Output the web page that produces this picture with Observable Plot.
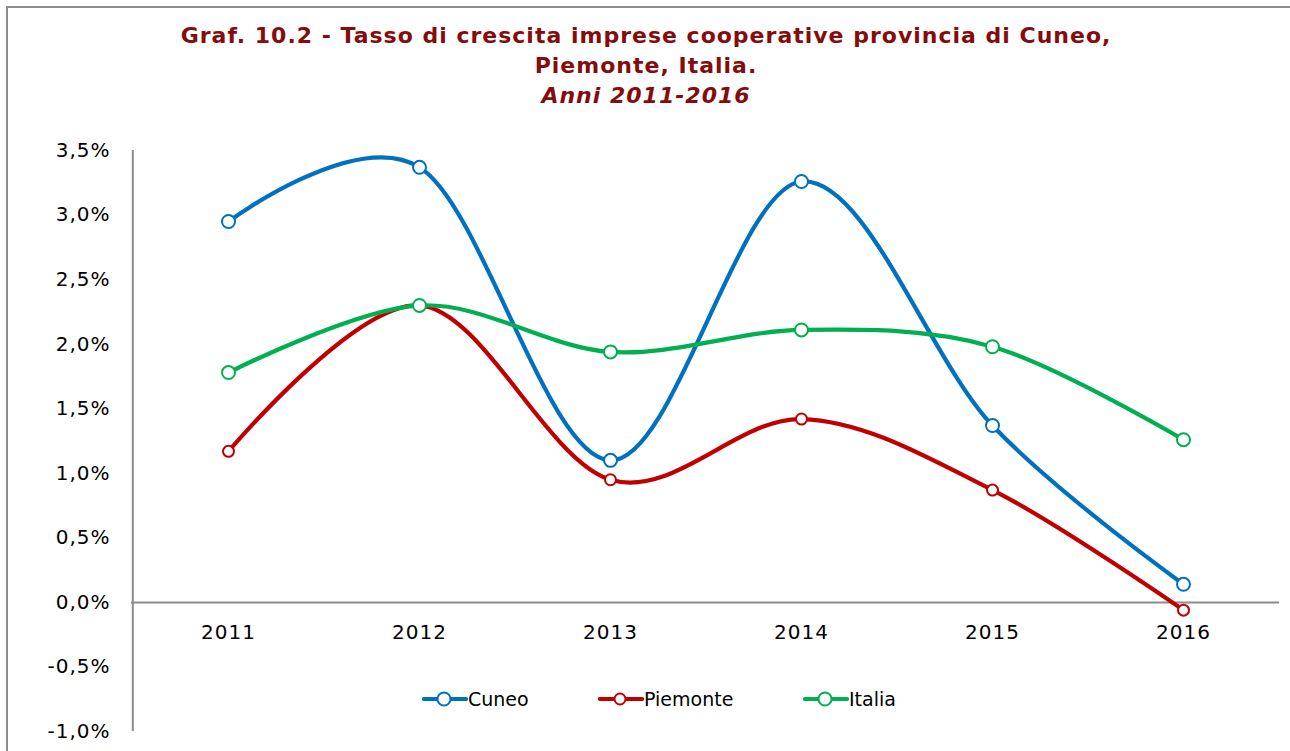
<!DOCTYPE html>
<html>
<head>
<meta charset="utf-8">
<script src="https://cdn.jsdelivr.net/npm/d3@7"></script>
<script src="https://cdn.jsdelivr.net/npm/@observablehq/plot@0.6"></script>
<style>
  html, body { margin: 0; padding: 0; background: #fff; }
  #wrap { position: relative; width: 1290px; height: 751px; overflow: hidden; background: #fff; font-family: "DejaVu Sans", Verdana, sans-serif; }
  #frame { position: absolute; left: 6px; top: 6px; width: 1300px; height: 800px; border-left: 2px solid #8c8c8c; border-top: 2px solid #8c8c8c; }
  #title { position: absolute; left: 0; top: 21px; width: 1292px; text-align: center; color: #850c0c; font-weight: bold; font-size: 22px; line-height: 30px; letter-spacing: 1px; }
  #title .sub { font-style: italic; }
  #chart { position: absolute; left: 0; top: 120px; }
  #legend { position: absolute; top: 686px; left: 0; width: 1290px; height: 26px; font-size: 19px; color: #000; }
  .li { position: absolute; top: 0; height: 26px; display: flex; align-items: center; }
  #chart svg text { letter-spacing: 1px; }
</style>
</head>
<body>
<div id="wrap">
  <div id="frame"></div>
  <div id="title">Graf. 10.2 - Tasso di crescita imprese cooperative provincia di Cuneo,<br>Piemonte, Italia.<br><span class="sub">Anni 2011-2016</span></div>
  <div id="chart"></div>
  <div id="legend"></div>
</div>
<script>
const years = ["2011", "2012", "2013", "2014", "2015", "2016"];
const cuneo = [2.95, 3.37, 1.10, 3.26, 1.37, 0.14];
const piemonte = [1.17, 2.30, 0.95, 1.42, 0.87, -0.06];
const italia = [1.78, 2.30, 1.94, 2.11, 1.98, 1.26];
const yTicks = [-1.0, -0.5, 0.0, 0.5, 1.0, 1.5, 2.0, 2.5, 3.0, 3.5];
const seriesNames = ["Cuneo", "Piemonte", "Italia"];
const seriesColors = ["#0070c0", "#c00000", "#00b050"];
const markerR = [6.5, 5.5, 6.5];

const seriesValues = [cuneo, piemonte, italia];
const data = [];
seriesNames.forEach((name, si) => {
  years.forEach((yr, i) => data.push({ series: name, year: yr, value: seriesValues[si][i] }));
});

const fmt = d => d.toFixed(1).replace(".", ",") + "%";

const marks = [
  Plot.ruleX([years[0]], { x: () => years[0], dx: -95.7, y1: -1.0, y2: 3.5, stroke: "#8c8c8c", strokeWidth: 2 }),
  Plot.ruleY([0], { stroke: "#8c8c8c", strokeWidth: 2 }),
];
seriesNames.forEach((name, si) => {
  const d = data.filter(r => r.series === name);
  marks.push(Plot.line(d, { x: "year", y: "value", stroke: seriesColors[si], strokeWidth: 4.2, curve: "cardinal" }));
  marks.push(Plot.dot(d, { x: "year", y: "value", r: markerR[si], fill: "white", stroke: seriesColors[si], strokeWidth: 2 }));
});

const chart = Plot.plot({
  width: 1290,
  height: 631,
  marginLeft: 131,
  marginRight: 11,
  marginTop: 30,
  marginBottom: 20,
  style: { fontFamily: "DejaVu Sans, Verdana, sans-serif", fontSize: "20px", color: "#000", background: "transparent", overflow: "visible" },
  x: { type: "point", domain: years, padding: 0.5, axis: null },
  y: { domain: [-1.0, 3.5], axis: null },
  marks: [
    ...marks,
    Plot.axisY(yTicks, { tickSize: 0, tickPadding: 21, tickFormat: fmt, fontSize: 20, fill: "#000", label: null }),
    Plot.text(years, { x: d => d, y: () => 0, dy: 30, text: d => d, fontSize: 20, fill: "#000" })
  ]
});
document.getElementById("chart").appendChild(chart);

// legend
const legend = document.getElementById("legend");
const legendX = [422, 598, 803];
seriesNames.forEach((name, si) => {
  const item = document.createElement("div");
  item.className = "li";
  item.style.left = legendX[si] + "px";
  const c = seriesColors[si];
  item.innerHTML = `<svg width="46" height="26"><line x1="2" y1="13" x2="44" y2="13" stroke="${c}" stroke-width="4.2" stroke-linecap="round"/><circle cx="22" cy="13" r="${markerR[si]}" fill="white" stroke="${c}" stroke-width="2"/></svg><span style="margin-left:0px">${name}</span>`;
  legend.appendChild(item);
});
</script>
</body>
</html>
